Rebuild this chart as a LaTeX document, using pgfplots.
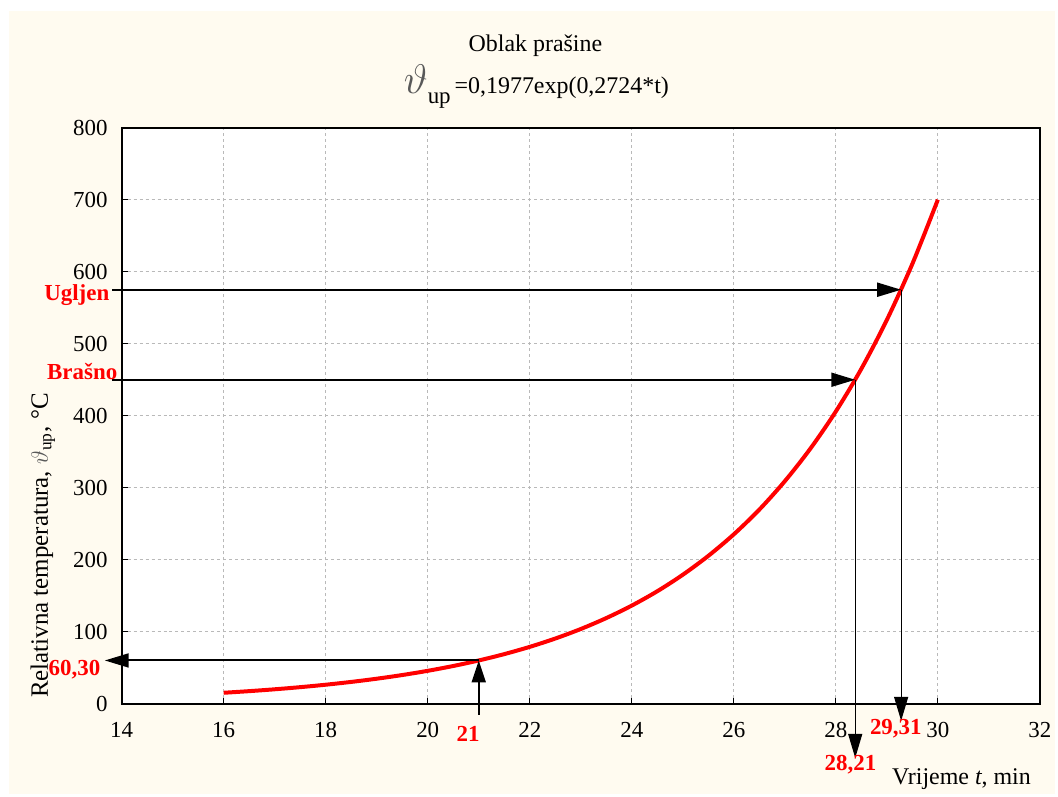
\documentclass[border=0pt]{standalone}
\usepackage{pgfplots}
\pgfplotsset{compat=1.18}
\usetikzlibrary{arrows.meta}
\usepackage{fontspec}
\setmainfont{Liberation Serif}
\definecolor{cream}{RGB}{255,251,240}
\begin{document}
\begin{tikzpicture}
\fill[white] (-61pt,-45pt) rectangle (468pt,353pt);
\fill[cream] (-56.5pt,-45pt) rectangle (468pt,347.5pt);
\begin{axis}[
  scale only axis, width=460.5pt, height=289pt,
  xmin=14, xmax=32, ymin=0, ymax=800,
  xtick={14,16,...,32}, ytick={0,100,...,800},
  grid=major,
  grid style={gray!55, dash pattern=on 1.5pt off 1.5pt, line width=0.4pt},
  axis line style={black, line width=1pt},
  axis background/.style={fill=white},
  tick align=inside, xtick pos=left, ytick pos=left,
  major tick length=3pt,
  tick style={black, line width=0.6pt},
  ticklabel style={font=\fontsize{11.5}{13}\selectfont},
  /pgf/number format/assume math mode=true,
  xticklabel style={anchor=base, yshift=-17pt},
  yticklabel style={anchor=east, xshift=-3.5pt},
  clip=false,
]
\addplot[red, line width=2pt, smooth] coordinates {
(16,15.45) (16.5,17.70) (17,20.28) (17.5,23.24) (18,26.63) (18.5,30.52)
(19,34.97) (19.5,40.07) (20,45.92) (20.5,52.62) (21,60.30) (21.5,69.10)
(22,79.18) (22.5,90.73) (23,103.97) (23.5,119.14) (24,136.5) (24.5,156.4)
(25,179.3) (25.5,205.5) (26,235.4) (26.5,269.7) (27,309.2) (27.5,354.3)
(28,406.0) (28.5,465.2) (29,533.1) (29.5,610.9) (30,700.0)};
% Ugljen
\addplot[black, line width=1pt, -{Triangle[length=12pt,width=7pt]}] coordinates {(13.82,575) (29.28,575)};
\addplot[black, line width=0.6pt, -{Triangle[length=12pt,width=7pt]}] coordinates {(29.28,575) (29.28,-23.5)};
% Brasno
\addplot[black, line width=1pt, -{Triangle[length=12pt,width=7pt]}] coordinates {(13.82,450) (28.38,450)};
\addplot[black, line width=0.6pt, -{Triangle[length=12pt,width=7pt]}] coordinates {(28.38,450) (28.38,-75)};
% 21
\addplot[black, line width=1pt, -{Triangle[length=11pt,width=7pt]}] coordinates {(21,-15.2) (21,60.3)};
\addplot[black, line width=1pt, -{Triangle[length=12pt,width=7pt]}] coordinates {(21,60.3) (13.67,60.3)};
\end{axis}
% titles
\node[anchor=base, font=\fontsize{12}{14}\selectfont] at (207.5pt,327pt) {Oblak prašine};
\node[anchor=base, font=\fontsize{12}{14}\selectfont] at (208pt,306pt)
  {{\color{black!65}\fontsize{20}{20}\selectfont$\vartheta$}\raisebox{-5pt}{\fontsize{11.5}{13}\selectfont up}\,=0,1977exp(0,2724*t)};
% axis labels
\node[anchor=base west, rotate=90, font=\fontsize{12.5}{14}\selectfont] at (-37pt,-0.5pt)
  {Relativna temperatura, {\color{black!65}$\vartheta$}\textsubscript{up}, °C};
\node[anchor=base east, font=\fontsize{12}{14}\selectfont] at (459.5pt,-40.5pt) {Vrijeme \textit{t}, min};
% red labels
\begin{scope}[every node/.style={text=red, font=\bfseries\fontsize{11.5}{13}\selectfont, inner sep=0pt}]
\node[anchor=base east] at (-6pt,202.5pt) {Ugljen};
\node[anchor=base east] at (-2pt,162.5pt) {Brašno};
\node[anchor=base east] at (-10.5pt,14pt) {60,30};
\node[anchor=base] at (173.75pt,-19pt) {21};
\node[anchor=base] at (388.25pt,-15.5pt) {29,31};
\node[anchor=base] at (365.5pt,-33.5pt) {28,21};
\end{scope}
\end{tikzpicture}
\end{document}
